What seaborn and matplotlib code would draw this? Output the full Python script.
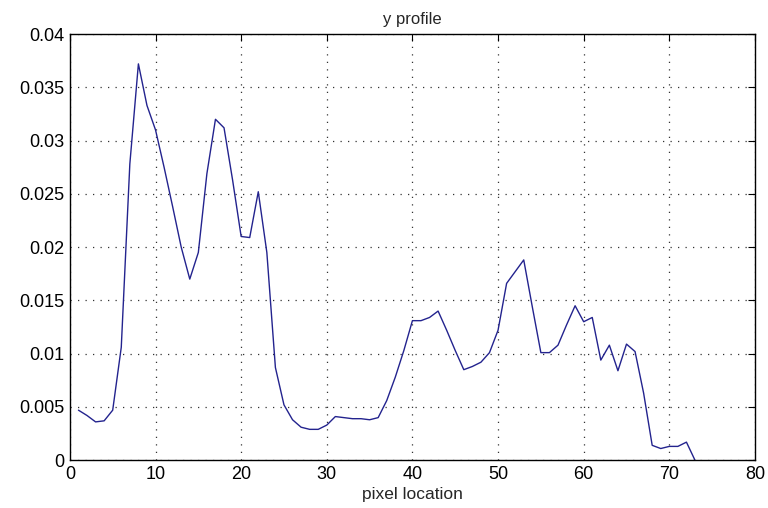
import numpy as np
import pandas as pd
import matplotlib
matplotlib.use("Agg")
import matplotlib.pyplot as plt
from matplotlib.ticker import FuncFormatter
import seaborn as sns

# y profile values, one per pixel location
pixel = list(range(1, 74))
intensity = [
    0.0047, 0.0042, 0.0036, 0.0037, 0.0047, 0.0106, 0.0278, 0.0372, 0.0333, 0.0310,
    0.0275, 0.0238, 0.0200, 0.0170, 0.0195, 0.0269, 0.0320, 0.0312, 0.0263, 0.0210,
    0.0209, 0.0252, 0.0195, 0.0087, 0.0052, 0.0038, 0.0031, 0.0029, 0.0029, 0.0033,
    0.0041, 0.0040, 0.0039, 0.0039, 0.0038, 0.0040, 0.0056, 0.0078, 0.0103, 0.0131,
    0.0131, 0.0134, 0.0140, 0.0122, 0.0103, 0.0085, 0.0088, 0.0092, 0.0101, 0.0122,
    0.0166, 0.0177, 0.0188, 0.0144, 0.0101, 0.0101, 0.0108, 0.0127, 0.0145, 0.0130,
    0.0134, 0.0094, 0.0108, 0.0084, 0.0109, 0.0102, 0.0063, 0.0014, 0.0011, 0.0013,
    0.0013, 0.0017, 0.0000,
]
x_ticks = list(range(0, 81, 10))
y_ticks = [0, 0.005, 0.01, 0.015, 0.02, 0.025, 0.03, 0.035, 0.04]

df = pd.DataFrame({"pixel": pixel, "value": intensity})

sns.set_style("white")
plt.rcParams['font.family'] = ['Liberation Sans Narrow', 'Liberation Sans', 'DejaVu Sans']

fig = plt.figure(figsize=(7.68, 5.08), dpi=100)
ax = fig.add_axes([0.091, 0.094, 0.892, 0.839])

sns.lineplot(data=df, x="pixel", y="value", ax=ax, color="#23238e", linewidth=1.0)

ax.set_xlim(0, 80)
ax.set_ylim(0, 0.04)
ax.set_xticks(x_ticks)
ax.set_yticks(y_ticks)
ax.yaxis.set_major_formatter(FuncFormatter(lambda v, p: "%g" % v))

# matlab look: boxed axes, inward ticks, dotted grid
for s in ax.spines.values():
    s.set_color("black")
    s.set_linewidth(1.0)
ax.tick_params(direction="in", length=5, width=0.8, top=True, right=True,
               labelsize=13, colors="black", pad=4)
ax.grid(True, color="#333333", linestyle=(0, (1, 5)), linewidth=0.9)

ax.set_title("y profile", fontsize=12, pad=7)
ax.set_xlabel("pixel location", fontsize=12.5, labelpad=3)
ax.set_ylabel("")

plt.savefig("out.png", dpi=100)
